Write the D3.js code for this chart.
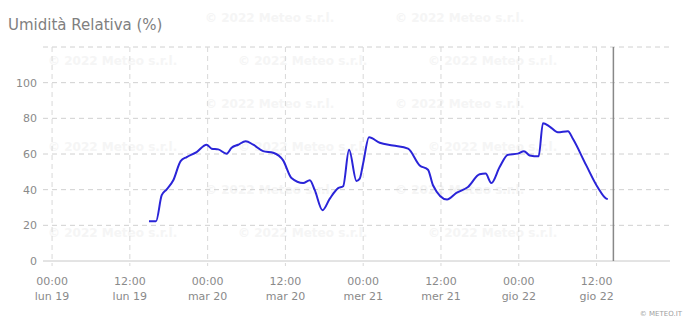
<!DOCTYPE html>
<html>
<head>
<meta charset="utf-8">
<script src="https://cdn.jsdelivr.net/npm/d3@7"></script>
<style>
  body { margin: 0; background: #fff; }
  svg { display: block; font-family: "DejaVu Sans", sans-serif; }
</style>
</head>
<body>
<div id="chart"></div>
<script>
// humidity readings (local time)
const times = [
  "2022-09-19T14:57", "2022-09-19T16:02", "2022-09-19T16:55", "2022-09-19T17:41", "2022-09-19T18:42",
  "2022-09-19T19:50", "2022-09-19T20:46", "2022-09-19T22:18", "2022-09-19T23:50", "2022-09-20T00:37",
  "2022-09-20T01:38", "2022-09-20T02:56", "2022-09-20T03:42", "2022-09-20T04:43", "2022-09-20T05:52",
  "2022-09-20T07:02", "2022-09-20T08:34", "2022-09-20T10:07", "2022-09-20T11:39", "2022-09-20T12:56",
  "2022-09-20T14:44", "2022-09-20T15:46", "2022-09-20T16:32", "2022-09-20T17:43", "2022-09-20T18:51",
  "2022-09-20T20:08", "2022-09-20T20:54", "2022-09-20T21:49", "2022-09-20T22:58", "2022-09-20T23:28",
  "2022-09-20T23:59", "2022-09-21T00:54", "2022-09-21T02:33", "2022-09-21T04:36", "2022-09-21T06:55",
  "2022-09-21T08:43", "2022-09-21T10:00", "2022-09-21T10:46", "2022-09-21T12:56", "2022-09-21T14:23",
  "2022-09-21T16:10", "2022-09-21T17:58", "2022-09-21T18:53", "2022-09-21T19:46", "2022-09-21T21:03",
  "2022-09-21T22:20", "2022-09-21T23:52", "2022-09-22T00:48", "2022-09-22T01:41", "2022-09-22T03:04",
  "2022-09-22T03:44", "2022-09-22T04:46", "2022-09-22T06:02", "2022-09-22T07:35", "2022-09-22T08:21",
  "2022-09-22T10:25", "2022-09-22T12:12", "2022-09-22T13:30", "2022-09-22T13:44"
];
const humidity = [
  22.3, 22.3, 36.9, 40.2, 45.3,
  56.0, 58.3, 61.1, 65.2, 63.0,
  62.6, 60.2, 63.5, 65.2, 67.2,
  65.2, 61.6, 60.7, 56.4, 46.5,
  43.7, 45.3, 39.7, 28.5, 35.0,
  40.9, 41.9, 62.4, 44.9, 46.2,
  54.6, 69.4, 66.3, 64.8, 63.0,
  53.6, 51.2, 42.5, 34.5, 38.2,
  41.5, 48.6, 49.0, 43.7, 52.7,
  59.6, 60.2, 61.6, 59.2, 58.7,
  77.3, 75.4, 72.2, 72.8, 68.5,
  53.6, 41.2, 35.0, 34.8
];
const xDomain = ["2022-09-18T22:36", "2022-09-22T23:20"];
const nowMark = "2022-09-22T14:36";
const yTicks = [0, 20, 40, 60, 80, 100];
const dayNames = ["dom", "lun", "mar", "mer", "gio", "ven", "sab"];

const W = 686, H = 319;
const margin = { top: 47, right: 16, bottom: 58, left: 43 };
const parse = d3.timeParse("%Y-%m-%dT%H:%M");

const svg = d3.select("#chart").append("svg")
  .attr("width", W).attr("height", H);

// faint watermark
const wm = svg.append("g").attr("fill", "#f5f5f5")
  .style("font-size", "12px").style("font-weight", "bold");
for (let r = 0; r < 6; r++) {
  const x0 = r % 2 ? 48 : 205;
  for (let c = 0; c < 4; c++) {
    const wx = x0 + c * 190;
    if (wx > W - 140) continue;
    wm.append("text")
      .attr("x", wx)
      .attr("y", 22 + r * 43)
      .text("\u00a9 2022 Meteo s.r.l.");
  }
}

svg.append("text")
  .attr("x", 8).attr("y", 30)
  .attr("fill", "#808080")
  .style("font-size", "15px")
  .text("Umidità Relativa (%)");

const x = d3.scaleTime()
  .domain(xDomain.map(parse))
  .range([margin.left, W - margin.right]);
const y = d3.scaleLinear()
  .domain([0, 120])
  .range([H - margin.bottom, margin.top]);

const xTicks = x.ticks(d3.timeHour.every(12));

// grid
const grid = svg.append("g");
grid.selectAll("line.h")
  .data(yTicks.slice(1).concat([120]))
  .enter().append("line")
  .attr("x1", margin.left).attr("x2", W - margin.right)
  .attr("y1", d => y(d)).attr("y2", d => y(d))
  .attr("stroke", "#d0d0d0")
  .attr("stroke-dasharray", "5,4");
grid.selectAll("line.v")
  .data(xTicks)
  .enter().append("line")
  .attr("x1", d => x(d)).attr("x2", d => x(d))
  .attr("y1", margin.top).attr("y2", H - margin.bottom + 5)
  .attr("stroke", "#d8d8d8")
  .attr("stroke-dasharray", "5,4");

// x axis line
svg.append("line")
  .attr("x1", margin.left).attr("x2", W - margin.right)
  .attr("y1", y(0)).attr("y2", y(0))
  .attr("stroke", "#c8c8c8");

// y labels
svg.append("g").selectAll("text")
  .data(yTicks)
  .enter().append("text")
  .attr("x", 37).attr("y", d => y(d) + 4)
  .attr("text-anchor", "end")
  .attr("fill", "#8a8a8a")
  .style("font-size", "11px")
  .text(d => d);

// x labels (two lines)
const xl = svg.append("g").selectAll("text")
  .data(xTicks)
  .enter().append("text")
  .attr("text-anchor", "middle")
  .attr("fill", "#8a8a8a")
  .style("font-size", "11px");
xl.append("tspan")
  .attr("x", d => x(d)).attr("y", 285)
  .text(d => d3.timeFormat("%H:%M")(d));
xl.append("tspan")
  .attr("x", d => x(d)).attr("y", 300)
  .text(d => dayNames[d.getDay()] + " " + d.getDate());

// current time marker
svg.append("line")
  .attr("x1", x(parse(nowMark))).attr("x2", x(parse(nowMark)))
  .attr("y1", margin.top).attr("y2", y(0))
  .attr("stroke", "#888")
  .attr("stroke-width", 1.5);

// humidity line
const data = times.map((t, i) => ({ t: parse(t), v: humidity[i] }));
const line = d3.line()
  .x(d => x(d.t))
  .y(d => y(d.v))
  .curve(d3.curveMonotoneX);
svg.append("path")
  .datum(data)
  .attr("d", line)
  .attr("fill", "none")
  .attr("stroke", "#2a24d8")
  .attr("stroke-width", 2)
  .attr("stroke-linejoin", "round");

svg.append("text")
  .attr("x", 682).attr("y", 316)
  .attr("text-anchor", "end")
  .attr("fill", "#a0a0a0")
  .style("font-size", "7px")
  .text("\u00a9 METEO.IT");
</script>
</body>
</html>
